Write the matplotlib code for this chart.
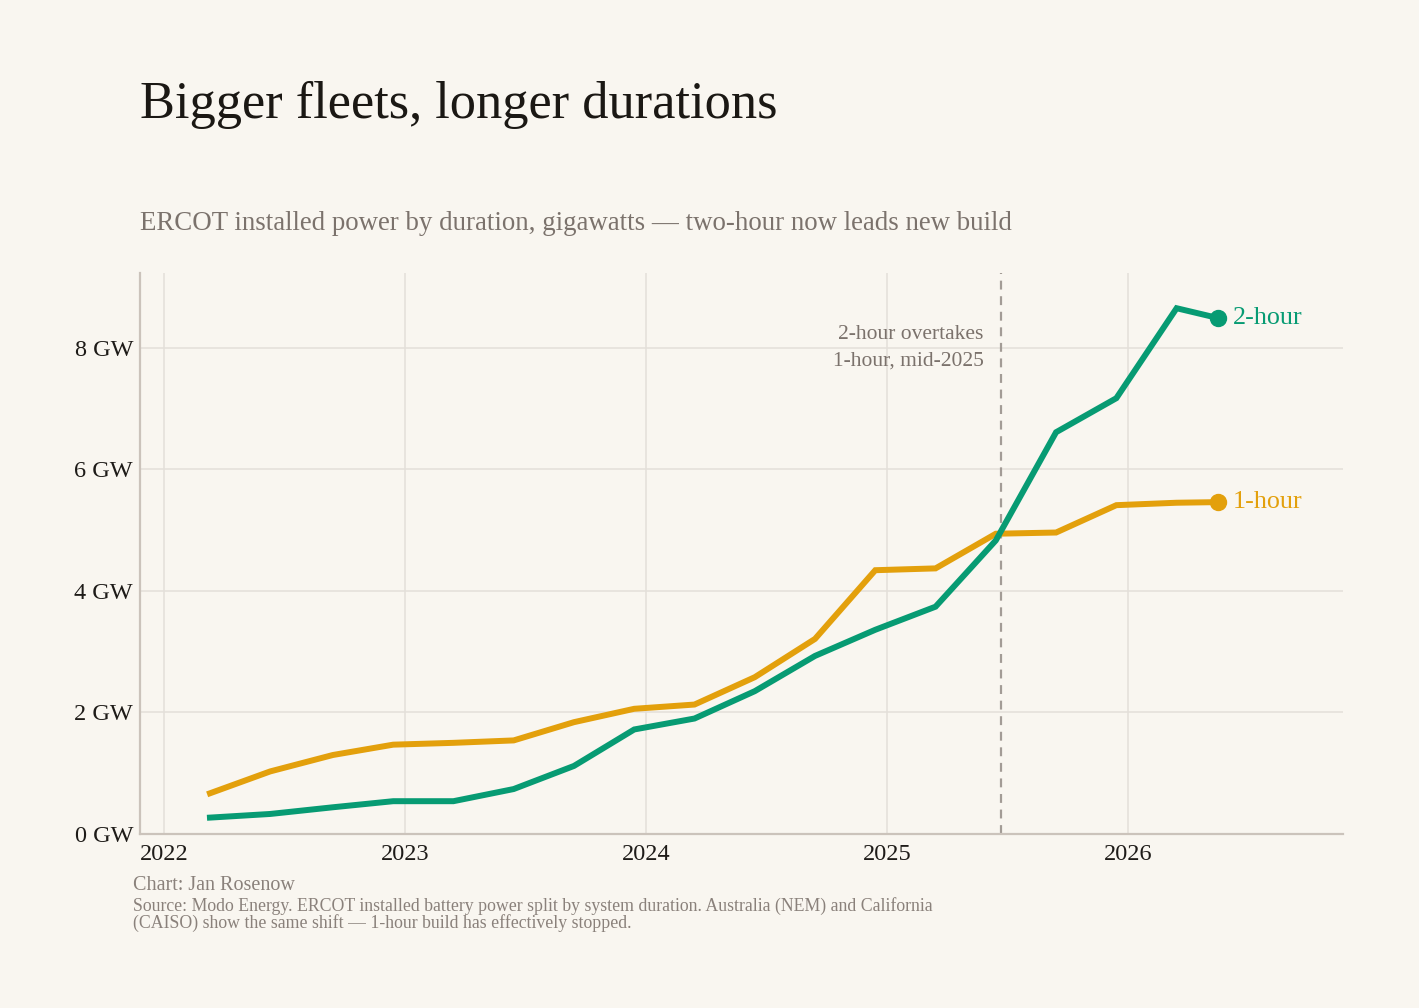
import matplotlib.pyplot as plt

# quarterly ERCOT installed power by duration (GW)
dates = [2022.19, 2022.44, 2022.70, 2022.95, 2023.20, 2023.45, 2023.70, 2023.95,
         2024.20, 2024.45, 2024.70, 2024.95, 2025.20, 2025.45, 2025.70, 2025.95,
         2026.20, 2026.37]
one_hour = [0.67, 1.03, 1.30, 1.47, 1.50, 1.54, 1.84, 2.06,
            2.13, 2.58, 3.21, 4.34, 4.37, 4.94, 4.96, 5.41,
            5.45, 5.46]
two_hour = [0.27, 0.33, 0.44, 0.54, 0.54, 0.74, 1.12, 1.72,
            1.90, 2.35, 2.93, 3.36, 3.74, 4.83, 6.61, 7.17,
            8.65, 8.49]
years = [2022, 2023, 2024, 2025, 2026]
y_ticks = [0, 2, 4, 6, 8]
crossover = 2025.47

bg = "#f9f6f0"
green = "#079b73"
orange = "#e3a00c"
grey = "#7b726c"
foot_grey = "#8a817b"
serif = ["Liberation Serif", "DejaVu Serif"]

plt.rcParams["font.family"] = serif

fig = plt.figure(figsize=(14.19, 10.08), dpi=100, facecolor=bg)
ax = fig.add_axes([0.0987, 0.1726, 0.8477, 0.5566], facecolor=bg)

ax.set_xlim(2021.9, 2026.89)
ax.set_ylim(0, 9.23)

ax.set_xticks(years)
ax.set_xticklabels([str(y) for y in years])
ax.set_yticks(y_ticks)
ax.set_yticklabels([f"{v} GW" for v in y_ticks])
ax.tick_params(length=0, labelsize=17.5, colors="#1e1b18")
ax.tick_params(axis="y", pad=5)
ax.tick_params(axis="x", pad=7)
ax.grid(color="#e4dfd9", lw=1.1)
ax.set_axisbelow(True)

for s in ["top", "right"]:
    ax.spines[s].set_visible(False)
for s in ["left", "bottom"]:
    ax.spines[s].set_color("#cbc3bb")
    ax.spines[s].set_linewidth(1.6)

ax.axvline(crossover, color="#a39c96", lw=1.6, ls=(0, (4, 3)), zorder=2)
ax.text(crossover - 0.07, 8.37, "2-hour overtakes\n1-hour, mid-2025",
        ha="right", va="top", fontsize=15.5, color=grey, linespacing=1.5)

ax.plot(dates, one_hour, color=orange, lw=4.3, solid_joinstyle="miter", zorder=3)
ax.plot(dates, two_hour, color=green, lw=4.3, solid_joinstyle="miter", zorder=4)
ax.plot(dates[-1], one_hour[-1], "o", color=orange, ms=11.5, zorder=5)
ax.plot(dates[-1], two_hour[-1], "o", color=green, ms=11.5, zorder=5)
ax.text(dates[-1] + 0.063, one_hour[-1], "1-hour", color=orange, fontsize=18.8,
        va="center", ha="left")
ax.text(dates[-1] + 0.063, two_hour[-1], "2-hour", color=green, fontsize=18.8,
        va="center", ha="left")

fig.text(0.0987, 0.883, "Bigger fleets, longer durations", fontsize=37.7,
         color="#1b1814", ha="left", va="baseline")
fig.text(0.0987, 0.772,
         "ERCOT installed power by duration, gigawatts \u2014 two-hour now leads new build",
         fontsize=19.4, color=grey, ha="left", va="baseline")

fig.text(0.0937, 0.117, "Chart: Jan Rosenow", fontsize=14.5, color=foot_grey,
         ha="left", va="baseline")
fig.text(0.0937, 0.0965,
         "Source: Modo Energy. ERCOT installed battery power split by system duration. "
         "Australia (NEM) and California",
         fontsize=12.8, color=foot_grey, ha="left", va="baseline")
fig.text(0.0937, 0.0790,
         "(CAISO) show the same shift \u2014 1-hour build has effectively stopped.",
         fontsize=12.8, color=foot_grey, ha="left", va="baseline")

fig.savefig("out.png", dpi=100, facecolor=bg)
